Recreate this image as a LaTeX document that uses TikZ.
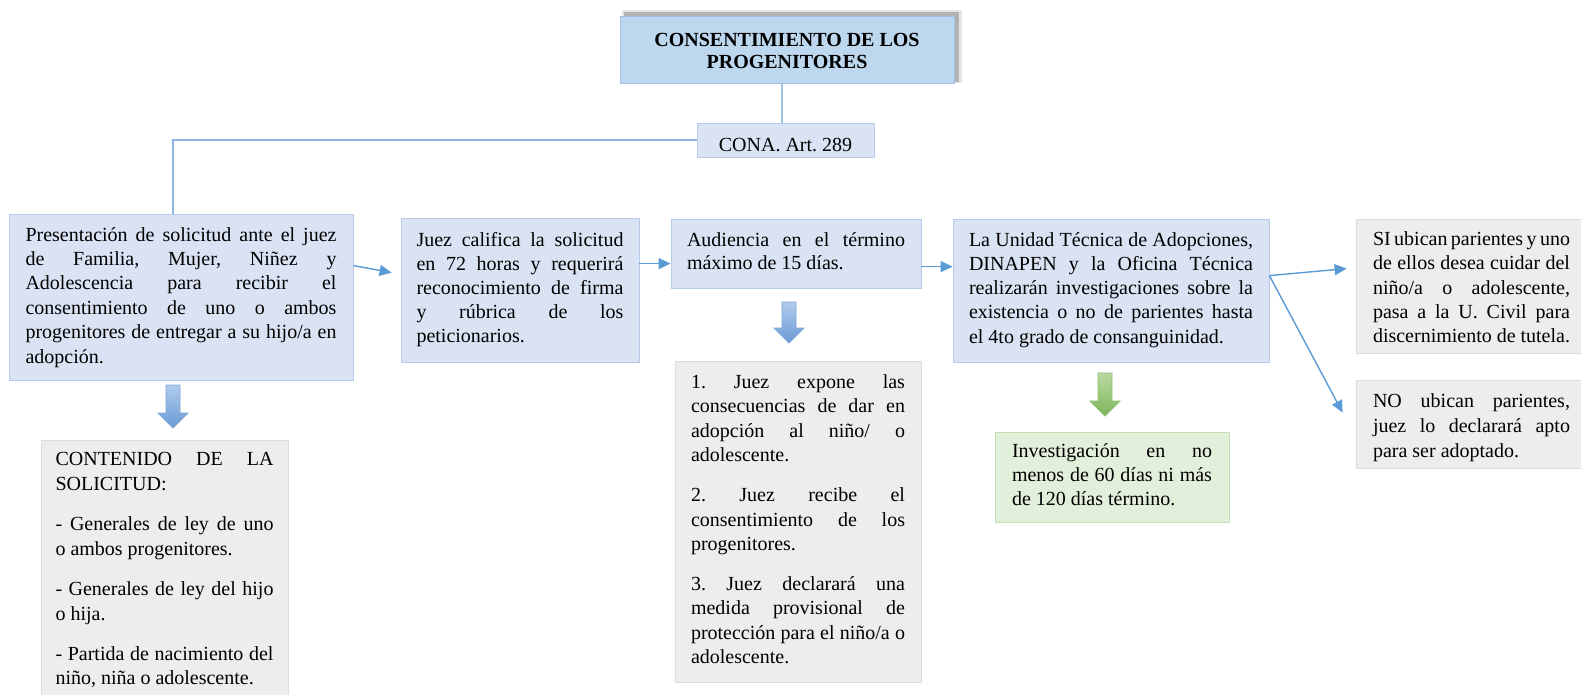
\documentclass[tikz,border=0pt]{standalone}
\usepackage{fontspec}
\setmainfont{Liberation Serif}
\usetikzlibrary{arrows.meta,calc}
\definecolor{titlefill}{HTML}{BDD7EE}
\definecolor{titlebd}{HTML}{9DC3E6}
\definecolor{bluefill}{HTML}{DAE3F3}
\definecolor{bluebd}{HTML}{B8CCEA}
\definecolor{grayfill}{HTML}{EDEDED}
\definecolor{graybd}{HTML}{DCDCDC}
\definecolor{greenfill}{HTML}{E2EFDA}
\definecolor{greenbd}{HTML}{C5E0B4}
\definecolor{lineblue}{HTML}{5B9BD5}
\definecolor{linelight}{HTML}{8DB6E2}
\definecolor{arrtop}{HTML}{B0CBEC}
\definecolor{arrbot}{HTML}{6A9BD6}
\definecolor{arrbd}{HTML}{7FA6D6}
\definecolor{garrtop}{HTML}{B9DAA2}
\definecolor{garrbot}{HTML}{7DB65A}
\definecolor{garrbd}{HTML}{8CBF6E}
\newcommand\st{\vrule height14pt depth0pt width0pt}
\newcommand\jl[1]{\hbox to\linewidth{\st#1}}
\newcommand\lastl[1]{\hbox to\linewidth{\st#1\hfil}}
\newcommand\cl[1]{\hbox to\linewidth{\hfil\st#1\hfil}}
\newcommand\bt[5]{\parbox[c][#2][t]{#1}{\frenchspacing\fontsize{20}{#4}\selectfont\vspace*{#3}#5}}
\begin{document}
\begin{tikzpicture}[x=1pt,y=-1pt,
  bx/.style={rectangle, inner sep=0pt, line width=0.8pt},
  titlebox/.style={bx, draw=titlebd, fill=titlefill},
  bluebox/.style={bx, draw=bluebd, fill=bluefill},
  graybox/.style={bx, draw=graybd, fill=grayfill},
  greenbox/.style={bx, draw=greenbd, fill=greenfill},
  conn/.style={draw=linelight, line width=1.8pt},
  arr/.style={draw=lineblue, line width=1.4pt, -{Triangle[length=12pt,width=11pt]}},
  blockblue/.style={draw=arrbd, line width=0.8pt, top color=arrtop, bottom color=arrbot},
  blockgreen/.style={draw=garrbd, line width=0.8pt, top color=garrtop, bottom color=garrbot}]
\useasboundingbox (0,0) rectangle (1581,695);
\fill[white] (0,0) rectangle (1581,695);
\clip (0,0) rectangle (1581,695);

% title shadow
\fill[black, opacity=0.10] (622,10) rectangle (962,83);
\fill[black, opacity=0.22] (624,12) rectangle (959,82);

\node[titlebox, minimum width=334pt, minimum height=67pt] (title) at (787,49.5)
  {\bt{320pt}{67pt}{16.7pt}{21.7pt}{\bfseries
   \cl{CONSENTIMIENTO DE LOS}
   \cl{PROGENITORES}}};

\node[bluebox, minimum width=177pt, minimum height=34pt] (cona) at (785.5,140)
  {\bt{170pt}{34pt}{14.5pt}{24pt}{\cl{CONA. Art. 289}}};

\node[bluebox, minimum width=344pt, minimum height=166pt] (b1) at (181,297)
  {\bt{311pt}{166pt}{13pt}{24.4pt}{%
   \jl{Presentación de solicitud ante el juez}
   \jl{de Familia, Mujer, Niñez y}
   \jl{Adolescencia para recibir el}
   \jl{consentimiento de uno o ambos}
   \jl{progenitores de entregar a su hijo/a en}
   \lastl{adopción.}}};

\node[bluebox, minimum width=238pt, minimum height=144pt] (b2) at (520,290)
  {\bt{207pt}{144pt}{14pt}{24.2pt}{%
   \jl{Juez califica la solicitud}
   \jl{en 72 horas y requerirá}
   \jl{reconocimiento de firma}
   \jl{y rúbrica de los}
   \lastl{peticionarios.}}};

\node[bluebox, minimum width=250pt, minimum height=69pt] (b3) at (796,253.5)
  {\bt{218pt}{69pt}{13pt}{23.3pt}{%
   \jl{Audiencia en el término}
   \lastl{máximo de 15 días.}}};

\node[bluebox, minimum width=316pt, minimum height=143pt] (b4) at (1111,290.5)
  {\bt{284pt}{143pt}{13pt}{24.3pt}{%
   \jl{La Unidad Técnica de Adopciones,}
   \jl{DINAPEN y la Oficina Técnica}
   \jl{realizarán investigaciones sobre la}
   \jl{existencia o no de parientes hasta}
   \lastl{el 4to grado de consanguinidad.}}};

\node[graybox, minimum width=231pt, minimum height=134pt] (si) at (1471.5,286)
  {\bt{197pt}{134pt}{12.5pt}{24.3pt}{%
   \jl{SI ubican parientes y uno}
   \jl{de ellos desea cuidar del}
   \jl{niño/a o adolescente,}
   \jl{pasa a la U. Civil para}
   \lastl{discernimiento de tutela.}}};

\node[graybox, minimum width=231pt, minimum height=88pt] (no) at (1471.5,424)
  {\bt{197pt}{88pt}{13pt}{25pt}{%
   \jl{NO ubican parientes,}
   \jl{juez lo declarará apto}
   \lastl{para ser adoptado.}}};

\node[graybox, minimum width=247pt, minimum height=270pt] (g1) at (164.5,575)
  {\bt{218pt}{270pt}{11.5pt}{24.7pt}{%
   \jl{CONTENIDO DE LA}
   \lastl{SOLICITUD:}
   \vspace{15.5pt}
   \jl{- Generales de ley de uno}
   \lastl{o ambos progenitores.}
   \vspace{15.5pt}
   \jl{- Generales de ley del hijo}
   \lastl{o hija.}
   \vspace{15.5pt}
   \jl{- Partida de nacimiento del}
   \lastl{niño, niña o adolescente.}}};

\node[graybox, minimum width=246pt, minimum height=321pt] (g2) at (798,521.5)
  {\bt{214pt}{321pt}{13.5pt}{24.3pt}{%
   \jl{1. Juez expone las}
   \jl{consecuencias de dar en}
   \jl{adopción al niño/ o}
   \lastl{adolescente.}
   \vspace{16pt}
   \jl{2. Juez recibe el}
   \jl{consentimiento de los}
   \lastl{progenitores.}
   \vspace{16pt}
   \jl{3. Juez declarará una}
   \jl{medida provisional de}
   \jl{protección para el niño/a o}
   \lastl{adolescente.}}};

\node[greenbox, minimum width=234pt, minimum height=90pt] (gr) at (1112,477)
  {\bt{200pt}{90pt}{11pt}{24.2pt}{%
   \jl{Investigación en no}
   \jl{menos de 60 días ni más}
   \lastl{de 120 días término.}}};

% connectors
\draw[conn, draw=titlebd] ([xshift=-3.5pt]cona.north) -- ([xshift=-3.5pt]cona.north |- title.south);
\draw[conn] (cona.west) -| ([xshift=-8pt]b1.north);
\draw[arr] ($(b1.north east)+(0,52)$) -- ($(b2.north west)+(-9,55)$);
\draw[arr] ($(b2.north east)+(0,46)$) -- ($(b3.north west)+(0,45)$);
\draw[arr] ($(b3.north east)+(0,48)$) -- ($(b4.north west)+(0,48)$);
\draw[arr] ($(b4.north east)+(0,57)$) -- ($(si.north west)+(-9,50)$);
\draw[arr] ($(b4.north east)+(0,57)$) -- ($(no.north west)+(-13,33)$);

% block arrows
\path[blockblue] (166,385) -- (180,385) -- (180,413) -- (188,413) -- (173,428)
  -- (158,413) -- (166,413) -- cycle;
\path[blockblue] (782,302) -- (796,302) -- (796,328) -- (804,328) -- (789,343)
  -- (774,328) -- (782,328) -- cycle;
\path[blockgreen] (1098,373) -- (1112,373) -- (1112,401) -- (1120,401) -- (1105,416)
  -- (1090,401) -- (1098,401) -- cycle;
\end{tikzpicture}
\end{document}
